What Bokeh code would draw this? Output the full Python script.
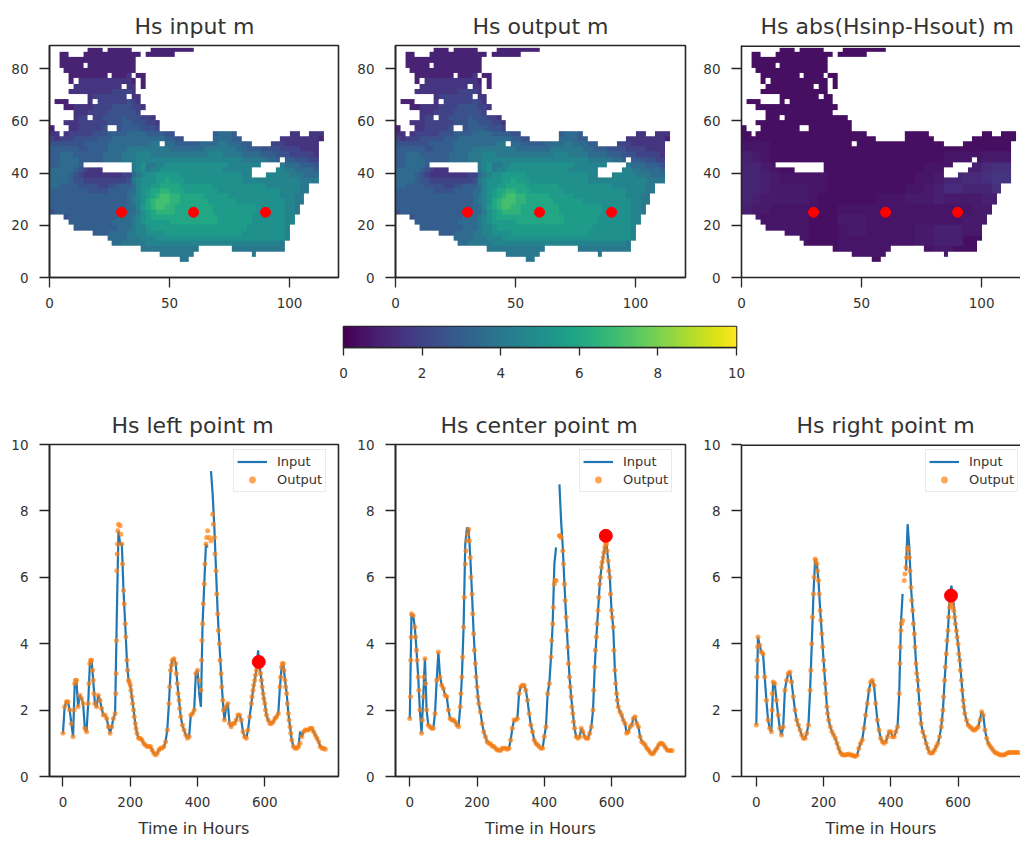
import numpy as np
from bokeh.embed import file_html
from bokeh.layouts import column, row
from bokeh.models import FixedTicker, LinearColorMapper, Range1d, Span
from bokeh.palettes import Viridis256
from bokeh.plotting import figure
from bokeh.resources import INLINE

FONT = "DejaVu Sans"
TXT = "#333333"
AXC = "#262626"

TITLES_TOP = ["Hs input m", "Hs output m", "Hs abs(Hsinp-Hsout) m"]
TITLES_BOTTOM = ["Hs left point m", "Hs center point m", "Hs right point m"]
X_LABEL = "Time in Hours"
MAP_POINTS_X = [30, 60, 90]
MAP_POINTS_Y = [25, 25, 25]

# Hs field, 2x2 unit cells, top row first. '.' = no data, char index x 0.5 m
HS_CHARS = "0123456789abcdefghij"
HS_ROWS = [
    "........22 2.22222... .222222222",
    "..22...222 222222222. 222222....",
    "..22222222 22222222..",
    "..22222.22 22222222..",
    "...2222222 22222222..",
    "....222222 22.2223.22",
    "....2.3333 33333332.2",
    ".....33333 33333.33.2",
    "....333333 33344443..",
    "........34 444444.33.",
    ".222....3. 444444543.",
    "...2233334 4445555443",
    ".....33344 445555554.",
    ".....344.4 4555565554 43",
    "...3334444 4455566555 443",
    "2...334444 45..566665 554",
    "33.3444445 5566667777 666655.... ....67776. .......... 33..333",
    "4344455555 6667777777 77776655.. ....777766 ........33 3333332",
    "5555555666 6677777777 788.776666 6777788777 66....4443 333333.",
    "6666665566 6677778888 8888877777 7788888887 7666555544 443333.",
    "6677766666 6777788899 9888888888 8889998888 7777666555 444443.",
    "6677776666 6777788899 9999999999 9999999999 88888776.6 655544.",
    "6677776... .......89a 8899aaaaaa aaaaaaa999 9999....87 776665.",
    "7777765433 3......89a 899aaaaaaa aaaaaa9999 99.....998 877776.",
    "7777654333 3333344 789 aabbbbbaaa aaaaaaaaaa 99...99999 888777.",
    "7777655444 4444445 89a aabbcbbbaa aaaaaaaaaa 9999999999 998888",
    "7766665555 4455666 79a abbccccbbb bbbbaaaaaa aaaaa99999 9988",
    "6666666655 5566667 79a bccddcccbb bbbbbaaaaa aaaaaaaa99 9988",
    "6666666666 6666667 89a bcdeeddccc ccbbbbbaaa aaaaaaaa99 988",
    "6666666666 6666667 89a cdeeeddccc cccbbbbbba aaaaaaaaa9 988",
    "6666666666 6666667 79b cdeeddcccc ccccbbbbbb bbbaaaaaa9 98",
    "5666666666 6666667 78a bcddddcccc ccccbbbbbb bbbaaaaaa9 98",
    "...5666666 6666777 89a bccccccccc cccccbbbbb bbaaaaaaa9 9",
    "....666666 6667777 89a bbbbbccccc cccccbbbbb bbaaaaaaa9 9",
    ".....66666 6666777 899 abbbbbbbbb bbbbbbbbbb baaaaaaaa9",
    ".........6 6677778899 aaaabbbbbb bbbbbbbbbb aaaaaaaaa9",
    ".......... ..77778889 99aaaaaaaa aaaaaaaaaa aaaaaaaaa9",
    ".......... ...7788888 9999999999 9999999999 999999998",
    ".......... .........8 8888888888 8.......88 888888888",
    ".......... .......... ...8888888 .......... ..8",
    ".......... .......... .......88",
]

# abs(input-output), 4x4 unit cells, digit = 0.25 + d x 0.16 m
DIFF_ROWS = [
    "11111 11111 11111 11111 11111 1111",
    "11111 11111 11111 11111 11111 1111",
    "11111 11111 11111 11111 11111 1111",
    "11111 11111 11111 11111 11111 1111",
    "11111 11111 11111 11111 11111 1111",
    "11111 11111 11111 11111 11111 1111",
    "11111 11111 11111 11111 11111 1111",
    "11111 11111 11111 11111 11111 1111",
    "11111 11111 11111 11111 11111 1111",
    "22211 11111 11111 11111 11111 1111",
    "43211 11111 11111 11111 12222 3331",
    "55321 11111 11111 11112 22344 6771",
    "55432 22221 11111 11122 35566 7881",
    "55433 33221 11111 11223 46655 5771",
    "54333 33211 11112 22333 43333 4444",
    "43322 22111 22222 22222 22223 3333",
    "33222 22111 33322 22222 22233 3333",
    "22222 22111 23322 22233 44433 3333",
    "11222 22111 22222 22233 44411 1111",
    "11111 11111 22222 22222 33111 1111",
    "11111 11111 11111 11111 11111 1111",
]

HOURS = list(range(0, 785, 5))
nan = float("nan")

OUT_LEFT = [1.3, 2.1, 2.25, 2.25, 2.0, 1.6, 1.2, 2.8, 2.9, 2.1, 2.45, 2.35, 2.2, 1.45, 1.35, 2.2, 3.4, 3.5, 2.9, 2.2,
            2.1, 2.45, 2.3, 2.05, 1.85, 1.85, 1.75, 1.5, 1.3, 1.5, 1.75, 1.9, 6.2, 7.6, 7.55, 7.0, 5.6, 4.6, 3.5, 2.9,
            2.75, 2.4, 2.0, 1.6, 1.3, 1.15, 1.15, 1.1, 1.0, .95, .9, .9, .9, .8, .7, .65, .7, .8, .85, .85,
            .9, 1.05, 1.4, 2.2, 3.2, 3.5, 3.55, 3.4, 2.8, 2.3, 1.8, 1.55, 1.4, 1.25, 1.15, 1.2, 1.85, 1.9, 2.0, 3.1,
            3.2, 2.9, 2.6, 4.6, 5.8, 7.0, 7.4, 7.2, 7.1, 7.9, 7.2, 6.2, 4.9, 4.0, 3.1, 2.3, 1.7, 2.1, 2.2, 1.6,
            1.5, 1.6, 1.6, 1.7, 1.85, 1.85, 1.7, 1.35, 1.2, 1.15, 1.4, 1.8, 2.2, 2.6, 2.9, 3.2, 3.45, 3.3, 2.9, 2.5,
            2.2, 1.85, 1.7, 1.6, 1.6, 1.65, 1.75, 1.8, 1.9, 2.7, 3.3, 3.4, 2.9, 2.5, 1.9, 1.5, 1.1, .9, .85, .85,
            .9, 1.0, 1.2, 1.35, 1.4, 1.4, 1.4, 1.45, 1.45, 1.35, 1.25, 1.15, 1.05, .9, .85, .85, .82]
OUT_CENTER = [1.75, 4.9, 4.85, 4.5, 3.8, 3.0, 2.0, 1.3, 2.4, 3.55, 2.0, 1.55, 1.5, 1.45, 1.45, 1.9, 2.9, 3.75, 3.0, 2.75,
              2.65, 2.45, 2.4, 2.0, 1.75, 1.7, 1.7, 1.65, 1.55, 1.5, 2.1, 3.0, 4.5, 6.4, 7.1, 7.45, 6.6, 5.5, 4.3, 3.4,
              2.7, 2.2, 1.95, 1.6, 1.35, 1.2, 1.05, 1.0, .98, .92, .9, .85, .8, .8, .78, .85, .85, .85, .82, .85,
              1.1, 1.45, 1.7, 1.7, 1.75, 2.5, 2.7, 2.75, 2.75, 2.6, 2.3, 1.9, 1.55, 1.35, 1.1, 1.0, .95, .9, .85, .85,
              1.2, 1.5, 2.5, 2.8, 3.6, 4.6, 5.8, 5.9, nan, 7.25, 7.2, 6.8, 5.8, 4.8, 3.9, 3.0, 2.4, 1.9, 1.45, 1.2,
              1.15, 1.2, 1.45, 1.35, 1.2, 1.15, 1.15, 1.3, 1.5, 2.0, 3.3, 4.2, 5.0, 5.8, 6.3, 6.6, 6.9, 7.0, 6.5, 6.0,
              5.0, 4.5, 3.2, 2.5, 2.1, 1.95, 1.85, 1.7, 1.6, 1.3, 1.35, 1.5, 1.55, 1.75, 1.8, 1.6, 1.5, 1.2, 1.05, 1.0,
              .95, .85, .8, .72, .68, .7, .78, .85, .95, 1.0, 1.0, .95, .88, .8, .78, .78, .78]
OUT_RIGHT = [1.55, 4.2, 3.95, 3.75, 3.7, 3.0, 2.3, 1.7, 1.45, 1.35, 2.85, 2.8, 2.3, 1.85, 1.45, 1.25, 1.5, 2.6, 2.9, 3.1,
             3.15, 2.85, 2.4, 2.0, 1.7, 1.55, 1.4, 1.25, 1.15, 1.15, 1.3, 1.55, 2.6, 4.0, 5.5, 6.55, 6.4, 5.9, 5.0, 4.3,
             3.5, 2.8, 2.1, 1.7, 1.5, 1.35, 1.25, 1.15, 1.0, .85, .72, .66, .65, .65, .66, .68, .65, .65, .62, .6,
             .65, .85, 1.0, 1.1, 1.45, 1.85, 2.2, 2.6, 2.85, 2.9, 2.75, 2.2, 1.7, 1.4, 1.15, 1.05, 1.0, 1.05, 1.2, 1.35,
             1.35, 1.2, 1.2, 1.35, 1.5, 2.5, 4.4, 4.7, 5.9, 6.3, 6.9, 6.6, 5.7, 5.0, 4.3, 3.4, 2.9, 2.2, 1.6, 1.35,
             1.2, 1.0, .85, .72, .7, .72, .8, .9, 1.0, 1.2, 1.5, 2.0, 2.9, 3.7, 4.4, 5.1, 5.3, 5.1, 4.8, 4.4,
             4.0, 3.5, 2.9, 2.3, 1.9, 1.7, 1.55, 1.5, 1.45, 1.4, 1.4, 1.45, 1.5, 1.7, 1.95, 1.85, 1.4, 1.15, 1.0, .92,
             .85, .78, .72, .7, .68, .65, .65, .65, .66, .7, .72, .72, .72, .72, .72, .72, .72]

# further Output dots read along the steep limbs
EXTRA_H_LEFT = [33, 37, 77, 82, 88, 92, 157, 158, 159, 161, 162, 163, 172, 177, 182, 187, 192, 197, 202, 207, 212, 217,
                317, 322, 337, 342, 347, 412, 413, 417, 422, 427, 447, 452, 457, 462, 467, 472, 477,
                562, 567, 572, 577, 582, 587, 592, 597, 602, 647, 652, 657, 662, 667, 672, 677]
EXTRA_Y_LEFT = [2.0, 2.9, 2.8, 3.5, 3.2, 2.5, 2.5, 3.1, 4.1, 6.7, 7.0, 7.4, 7.3, 6.4, 5.2, 4.2, 3.2, 2.85, 2.6, 2.2, 1.8, 1.45,
                2.7, 3.35, 3.1, 2.5, 2.05, 3.5, 4.1, 5.2, 6.4, 7.2, 7.6, 6.7, 5.5, 4.4, 3.5, 2.7, 2.0,
                2.4, 2.75, 3.05, 3.3, 3.4, 3.1, 2.7, 2.35, 2.0, 3.0, 3.4, 3.2, 2.7, 2.2, 1.7, 1.3]
EXTRA_H_CENTER = [2, 3, 4, 17, 22, 27, 37, 42, 47, 152, 157, 162, 167, 172, 177, 182, 187, 192, 197, 202,
                  422, 427, 432, 447, 457, 462, 467, 472, 477, 482, 487,
                  547, 552, 557, 562, 567, 572, 577, 582, 587, 592, 597, 602, 607, 612, 617]
EXTRA_Y_CENTER = [2.4, 3.5, 4.2, 4.2, 3.5, 2.6, 1.7, 3.0, 2.8, 2.5, 3.6, 5.4, 6.8, 7.3, 7.1, 6.0, 4.9, 3.8, 3.0, 2.4,
                  4.1, 5.1, 5.9, 7.25, 6.4, 5.3, 4.4, 3.4, 2.7, 2.1, 1.65,
                  2.6, 3.8, 4.6, 5.4, 6.0, 6.45, 6.75, 7.0, 6.8, 6.2, 5.5, 4.8, 3.8, 2.8, 2.3]
EXTRA_H_RIGHT = [2, 3, 4, 47, 48, 162, 167, 172, 177, 182, 187, 192, 197, 202, 207, 212,
                 427, 428, 432, 442, 447, 452, 457, 462, 467, 472, 477, 482, 487,
                 552, 557, 562, 567, 572, 577, 582, 587, 592, 597, 602, 607, 612, 617]
EXTRA_Y_RIGHT = [3.0, 3.5, 3.9, 2.0, 2.5, 3.2, 4.8, 6.0, 6.5, 6.2, 5.5, 4.7, 3.9, 3.2, 2.5, 1.9,
                 3.4, 3.9, 4.6, 6.1, 6.6, 6.8, 6.2, 5.3, 4.6, 3.9, 3.1, 2.6, 1.9,
                 1.7, 2.4, 3.3, 4.1, 4.8, 5.2, 5.25, 5.0, 4.6, 4.2, 3.7, 3.2, 2.6, 2.1]

# hours where the Input line differs visibly from the Output dots
IN_LEFT_DIFF = {160: 4.8, 165: 7.4, 170: 7.0, 405: 2.5, 410: 2.1, 430: 6.9, 435: nan, 440: 9.2, 445: 8.5, 450: 7.5, 580: 3.8, 705: 1.35}
IN_CENTER_DIFF = {165: 7.0, 170: 7.5, 430: 6.4, 435: 6.9, 440: nan, 445: 8.8, 450: 7.7, 455: 6.9}
IN_RIGHT_DIFF = {430: 4.6, 435: 5.5, 440: nan, 445: 6.2, 450: 7.6, 455: 6.9, 575: 5.4, 580: 5.75, 585: 5.4}

MARK_X = [582, 583, 579]
MARK_Y = [3.45, 7.25, 5.45]
CB_TICKS = [0, 2, 4, 6, 8, 10]

BLUE = "#1f77b4"
ORANGE = "#ff7f0e"

mapper = LinearColorMapper(palette=Viridis256, low=0, high=10, nan_color="rgba(0,0,0,0)")


def grid_rows():
    out = []
    for s in HS_ROWS:
        s = "".join(s.split()).ljust(58, ".")
        out.append([nan if c == "." else HS_CHARS.index(c) * 0.5 for c in s])
    return np.array(out, dtype=float)


def diff_grid(base):
    coarse = [[0.25 + int(c) * 0.16 for c in "".join(s.split())] for s in DIFF_ROWS]
    out = np.full(base.shape, nan)
    for r in range(base.shape[0]):
        y = 86 - 2 * r
        cr = (84 - (y // 4) * 4) // 4
        for c in range(base.shape[1]):
            if not np.isnan(base[r, c]):
                out[r, c] = coarse[cr][min(c // 2, len(coarse[cr]) - 1)]
    return out


def style(p, title, offset, clipped):
    p.title.text = title
    p.title.text_font = FONT
    p.title.text_font_size = "22px"
    p.title.text_font_style = "normal"
    p.title.text_color = TXT
    p.title.align = "left"
    p.title.offset = offset
    p.title.vertical_align = "top"
    p.title.standoff = 10
    p.grid.visible = False
    for ax in (p.xaxis[0], p.yaxis[0]):
        ax.major_label_text_font = FONT
        ax.major_label_text_font_size = "13.5px"
        ax.major_label_text_color = TXT
        ax.axis_line_color = AXC
        ax.axis_line_width = 1.6
        ax.major_tick_line_color = AXC
        ax.major_tick_line_width = 1.3
        ax.major_tick_in = 0
        ax.major_tick_out = 10
        ax.minor_tick_line_color = None
    p.xaxis[0].major_label_standoff = 10
    p.yaxis[0].major_label_standoff = 11
    if clipped:
        p.outline_line_color = None
        p.add_layout(Span(location=p.y_range.end, dimension="width", line_color=AXC, line_width=3))
    else:
        p.outline_line_color = AXC
        p.outline_line_width = 1.6


MAP_Y_END = 88.9
FRAME_W = [289, 290, 279]
BORDER_L = [49, 47, 46]
BORDER_R = [10, 10, 0]
MAP_X_END = [120.4, 120.8, 116.2]


def map_fig(i, data, title, offset):
    p = figure(width=BORDER_L[i] + FRAME_W[i] + BORDER_R[i], height=315, output_backend="svg", toolbar_location=None,
               x_range=Range1d(0, MAP_X_END[i]), y_range=Range1d(0, MAP_Y_END),
               min_border_left=BORDER_L[i], min_border_right=BORDER_R[i], min_border_top=45, min_border_bottom=38)
    p.image(image=[np.flipud(data)], x=0, y=6, dw=116, dh=82, color_mapper=mapper)
    p.scatter(MAP_POINTS_X, MAP_POINTS_Y, size=10, color="#ff0000")
    p.xaxis.ticker = FixedTicker(ticks=[0, 50, 100])
    p.yaxis.ticker = FixedTicker(ticks=[0, 20, 40, 60, 80])
    style(p, title, offset, i == 2)
    return p


X_START = [-40, -42.5, -44]
X_END = [819, 820, 785.6]


def series_fig(i, out, diff, extra_h, extra_y, title, offset):
    inp = [diff.get(h, v) for h, v in zip(HOURS, out)]
    p = figure(width=BORDER_L[i] + FRAME_W[i] + BORDER_R[i], height=451, output_backend="svg", toolbar_location=None,
               x_range=Range1d(X_START[i], X_END[i]), y_range=Range1d(0, 10),
               min_border_left=BORDER_L[i], min_border_right=BORDER_R[i], min_border_top=54, min_border_bottom=65)
    p.line(HOURS, inp, line_color=BLUE, line_width=2.2, legend_label="Input")
    p.scatter(HOURS + extra_h, out + extra_y, size=5, color=ORANGE, alpha=0.7, line_color=None, legend_label="Output")
    p.scatter([MARK_X[i]], [MARK_Y[i]], size=13, color="#ff0000")
    p.xaxis.ticker = FixedTicker(ticks=[0, 200, 400, 600])
    p.yaxis.ticker = FixedTicker(ticks=[0, 2, 4, 6, 8, 10])
    style(p, title, offset, i == 2)
    p.xaxis.axis_label = X_LABEL
    p.xaxis.axis_label_text_font = FONT
    p.xaxis.axis_label_text_font_size = "16px"
    p.xaxis.axis_label_text_font_style = "normal"
    p.xaxis.axis_label_text_color = TXT
    p.xaxis.axis_label_standoff = 9
    lg = p.legend[0]
    lg.location = (184, 284)
    lg.margin = 0
    lg.padding = 3
    lg.spacing = 1
    lg.glyph_width = 30
    lg.glyph_height = 17
    lg.label_text_font = FONT
    lg.label_text_font_size = "13px"
    lg.label_text_color = TXT
    lg.label_standoff = 10
    lg.border_line_color = "#d5d5d5"
    lg.border_line_width = 1.2
    lg.background_fill_alpha = 0.8
    return p


hs = grid_rows()
top = [
    map_fig(0, hs, TITLES_TOP[0], 85),
    map_fig(1, hs, TITLES_TOP[1], 77),
    map_fig(2, diff_grid(hs), TITLES_TOP[2], 19),
]

cb = figure(width=1020, height=75, output_backend="svg", toolbar_location=None,
            x_range=Range1d(0, 10), y_range=Range1d(0, 1),
            min_border_left=343, min_border_right=284, min_border_top=11, min_border_bottom=43)
cb.image(image=[np.array([np.linspace(0, 10, 256)])], x=0, y=0, dw=10, dh=1, color_mapper=mapper)
cb.xaxis.ticker = FixedTicker(ticks=CB_TICKS)
style(cb, "", 0, False)
cb.yaxis.visible = False
cb.xaxis[0].major_tick_out = 8
cb.xaxis[0].major_label_standoff = 12

bottom = [
    series_fig(0, OUT_LEFT, IN_LEFT_DIFF, EXTRA_H_LEFT, EXTRA_Y_LEFT, TITLES_BOTTOM[0], 62),
    series_fig(1, OUT_CENTER, IN_CENTER_DIFF, EXTRA_H_CENTER, EXTRA_Y_CENTER, TITLES_BOTTOM[1], 45),
    series_fig(2, OUT_RIGHT, IN_RIGHT_DIFF, EXTRA_H_RIGHT, EXTRA_Y_RIGHT, TITLES_BOTTOM[2], 55),
]

page = column(row(*top, spacing=0), cb, row(*bottom, spacing=0), spacing=0)
open("out.html", "w").write(file_html(page, INLINE))
